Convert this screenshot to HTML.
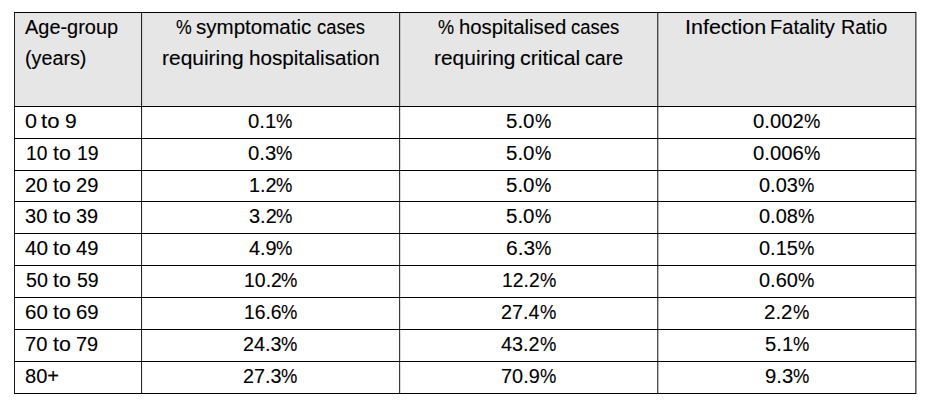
<!DOCTYPE html>
<html><head><meta charset="utf-8"><title>Table</title>
<style>
html,body{margin:0;padding:0;background:#fff;}
body{width:938px;height:413px;position:relative;overflow:hidden;font-family:"Liberation Sans",sans-serif;color:#000;}
.hd{position:absolute;left:15px;top:13px;width:900px;height:93px;background:#e6e6e6;}
.h{position:absolute;left:14px;width:902px;height:1px;background:#000;}
.v{position:absolute;top:12px;width:1px;height:382px;}
.t{display:block;position:absolute;white-space:nowrap;line-height:24px;height:24px;font-size:19.5px;-webkit-text-stroke:0.12px #000;transform-origin:0 50%;}
.n{font-size:20.0px;}
.c{height:0;margin:0;padding:0;}
</style></head><body>
<div class="hd"></div>
<div class="v" style="left:14px;background:rgba(0,0,0,.89)"></div>
<div class="v" style="left:141px;background:rgba(0,0,0,.84)"></div>
<div class="v" style="left:142px;background:rgba(0,0,0,.075)"></div>
<div class="v" style="left:399px;background:rgba(0,0,0,.77)"></div>
<div class="v" style="left:400px;background:rgba(0,0,0,.14)"></div>
<div class="v" style="left:657px;background:rgba(0,0,0,.69)"></div>
<div class="v" style="left:658px;background:rgba(0,0,0,.26)"></div>
<div class="v" style="left:915px;background:rgba(0,0,0,.63)"></div>
<div class="v" style="left:916px;background:rgba(0,0,0,.39)"></div>
<div class="h" style="top:12px"></div>
<div class="h" style="top:106px"></div>
<div class="h" style="top:138px"></div>
<div class="h" style="top:170px"></div>
<div class="h" style="top:201px"></div>
<div class="h" style="top:233px"></div>
<div class="h" style="top:265px"></div>
<div class="h" style="top:297px"></div>
<div class="h" style="top:329px"></div>
<div class="h" style="top:361px"></div>
<div class="h" style="top:393px"></div>
<div class="c"><span class="t" style="left:25.40px;top:15px;transform:scaleX(1.0227)">Age-group</span></div>
<div class="c"><span class="t" style="left:25.19px;top:46px;transform:scaleX(1.0120)">(years)</span></div>
<div class="c"><span class="t" style="left:175.60px;top:15px;transform:scaleX(0.9077)">%</span> <span class="t" style="left:196.47px;top:15px;transform:scaleX(1.0535)">symptomatic</span> <span class="t" style="left:317.19px;top:15px;transform:scaleX(0.9414)">cases</span></div>
<div class="c"><span class="t" style="left:161.86px;top:46px;transform:scaleX(1.0748)">requiring</span> <span class="t" style="left:248.58px;top:46px;transform:scaleX(1.0581)">hospitalisation</span></div>
<div class="c"><span class="t" style="left:437.84px;top:15px;transform:scaleX(0.9292)">%</span> <span class="t" style="left:458.50px;top:15px;transform:scaleX(1.0428)">hospitalised</span> <span class="t" style="left:570.89px;top:15px;transform:scaleX(0.9475)">cases</span></div>
<div class="c"><span class="t" style="left:434.46px;top:46px;transform:scaleX(1.0735)">requiring</span> <span class="t" style="left:520.38px;top:46px;transform:scaleX(1.0911)">critical</span> <span class="t" style="left:584.95px;top:46px;transform:scaleX(1.0027)">care</span></div>
<div class="c"><span class="t" style="left:684.77px;top:15px;transform:scaleX(1.1025)">Infection</span> <span class="t" style="left:770.25px;top:15px;transform:scaleX(1.0325)">Fatality</span> <span class="t" style="left:841.48px;top:15px;transform:scaleX(1.0150)">Ratio</span></div>
<div class="c"><span class="t n" style="left:24.69px;top:109px;transform:scaleX(1.0769)">0</span> <span class="t n" style="left:41.32px;top:109px;transform:scaleX(1.1048)">to</span> <span class="t n" style="left:64.91px;top:109px;transform:scaleX(1.0526)">9</span></div>
<div class="c"><span class="t n" style="left:25.76px;top:141px;transform:scaleX(0.9600)">10</span> <span class="t n" style="left:52.73px;top:141px;transform:scaleX(1.0667)">to</span> <span class="t n" style="left:76.89px;top:141px;transform:scaleX(0.9725)">19</span></div>
<div class="c"><span class="t n" style="left:24.99px;top:173px;transform:scaleX(1.0146)">20</span> <span class="t n" style="left:52.73px;top:173px;transform:scaleX(1.0667)">to</span> <span class="t n" style="left:76.14px;top:173px;transform:scaleX(1.0073)">29</span></div>
<div class="c"><span class="t n" style="left:25.25px;top:204px;transform:scaleX(1.0024)">30</span> <span class="t n" style="left:52.73px;top:204px;transform:scaleX(1.0667)">to</span> <span class="t n" style="left:76.40px;top:204px;transform:scaleX(0.9952)">39</span></div>
<div class="c"><span class="t n" style="left:24.94px;top:236px;transform:scaleX(1.0400)">40</span> <span class="t n" style="left:52.73px;top:236px;transform:scaleX(1.0667)">to</span> <span class="t n" style="left:76.10px;top:236px;transform:scaleX(1.0094)">49</span></div>
<div class="c"><span class="t n" style="left:25.66px;top:268px;transform:scaleX(0.9831)">50</span> <span class="t n" style="left:52.73px;top:268px;transform:scaleX(1.0667)">to</span> <span class="t n" style="left:76.82px;top:268px;transform:scaleX(0.9759)">59</span></div>
<div class="c"><span class="t n" style="left:24.78px;top:300px;transform:scaleX(1.0244)">60</span> <span class="t n" style="left:52.73px;top:300px;transform:scaleX(1.0667)">to</span> <span class="t n" style="left:75.93px;top:300px;transform:scaleX(1.0171)">69</span></div>
<div class="c"><span class="t n" style="left:25.20px;top:332px;transform:scaleX(1.0049)">70</span> <span class="t n" style="left:52.73px;top:332px;transform:scaleX(1.0667)">to</span> <span class="t n" style="left:76.35px;top:332px;transform:scaleX(0.9976)">79</span></div>
<div class="c"><span class="t n" style="left:25.05px;top:364px;transform:scaleX(1.0047)">80+</span></div>
<div class="c"><span class="t n" style="left:248.14px;top:109px;transform:scaleX(1.0133)">0.1</span><span class="t n" style="left:276.14px;top:109px;transform:scaleX(0.9194)">%</span></div>
<div class="c"><span class="t n" style="left:506.13px;top:109px;transform:scaleX(1.0264)">5.0</span><span class="t n" style="left:534.74px;top:109px;transform:scaleX(0.9194)">%</span></div>
<div class="c"><span class="t n" style="left:753.04px;top:109px;transform:scaleX(1.0144)">0.002</span><span class="t n" style="left:803.64px;top:109px;transform:scaleX(0.9194)">%</span></div>
<div class="c"><span class="t n" style="left:248.14px;top:141px;transform:scaleX(1.0133)">0.3</span><span class="t n" style="left:276.14px;top:141px;transform:scaleX(0.9194)">%</span></div>
<div class="c"><span class="t n" style="left:506.13px;top:141px;transform:scaleX(1.0264)">5.0</span><span class="t n" style="left:534.74px;top:141px;transform:scaleX(0.9194)">%</span></div>
<div class="c"><span class="t n" style="left:753.04px;top:141px;transform:scaleX(1.0144)">0.006</span><span class="t n" style="left:803.64px;top:141px;transform:scaleX(0.9194)">%</span></div>
<div class="c"><span class="t n" style="left:248.71px;top:173px;transform:scaleX(0.9922)">1.2</span><span class="t n" style="left:276.14px;top:173px;transform:scaleX(0.9194)">%</span></div>
<div class="c"><span class="t n" style="left:506.13px;top:173px;transform:scaleX(1.0264)">5.0</span><span class="t n" style="left:534.74px;top:173px;transform:scaleX(0.9194)">%</span></div>
<div class="c"><span class="t n" style="left:758.85px;top:173px;transform:scaleX(0.9973)">0.03</span><span class="t n" style="left:797.64px;top:173px;transform:scaleX(0.9194)">%</span></div>
<div class="c"><span class="t n" style="left:248.55px;top:204px;transform:scaleX(0.9981)">3.2</span><span class="t n" style="left:276.14px;top:204px;transform:scaleX(0.9194)">%</span></div>
<div class="c"><span class="t n" style="left:506.13px;top:204px;transform:scaleX(1.0264)">5.0</span><span class="t n" style="left:534.74px;top:204px;transform:scaleX(0.9194)">%</span></div>
<div class="c"><span class="t n" style="left:758.85px;top:204px;transform:scaleX(0.9973)">0.08</span><span class="t n" style="left:797.64px;top:204px;transform:scaleX(0.9194)">%</span></div>
<div class="c"><span class="t n" style="left:248.65px;top:236px;transform:scaleX(0.9944)">4.9</span><span class="t n" style="left:276.14px;top:236px;transform:scaleX(0.9194)">%</span></div>
<div class="c"><span class="t n" style="left:505.85px;top:236px;transform:scaleX(1.0462)">6.3</span><span class="t n" style="left:534.74px;top:236px;transform:scaleX(0.9194)">%</span></div>
<div class="c"><span class="t n" style="left:758.85px;top:236px;transform:scaleX(0.9973)">0.15</span><span class="t n" style="left:797.64px;top:236px;transform:scaleX(0.9194)">%</span></div>
<div class="c"><span class="t n" style="left:243.84px;top:268px;transform:scaleX(0.9726)">10.2</span><span class="t n" style="left:281.44px;top:268px;transform:scaleX(0.9194)">%</span></div>
<div class="c"><span class="t n" style="left:502.25px;top:268px;transform:scaleX(0.9671)">12.2</span><span class="t n" style="left:539.64px;top:268px;transform:scaleX(0.9194)">%</span></div>
<div class="c"><span class="t n" style="left:758.85px;top:268px;transform:scaleX(0.9973)">0.60</span><span class="t n" style="left:797.64px;top:268px;transform:scaleX(0.9194)">%</span></div>
<div class="c"><span class="t n" style="left:243.85px;top:300px;transform:scaleX(0.9660)">16.6</span><span class="t n" style="left:281.44px;top:300px;transform:scaleX(0.9194)">%</span></div>
<div class="c"><span class="t n" style="left:501.01px;top:300px;transform:scaleX(0.9867)">27.4</span><span class="t n" style="left:539.64px;top:300px;transform:scaleX(0.9194)">%</span></div>
<div class="c"><span class="t n" style="left:764.48px;top:300px;transform:scaleX(1.0231)">2.2</span><span class="t n" style="left:792.74px;top:300px;transform:scaleX(0.9194)">%</span></div>
<div class="c"><span class="t n" style="left:243.01px;top:332px;transform:scaleX(0.9879)">24.3</span><span class="t n" style="left:281.44px;top:332px;transform:scaleX(0.9194)">%</span></div>
<div class="c"><span class="t n" style="left:501.35px;top:332px;transform:scaleX(0.9907)">43.2</span><span class="t n" style="left:539.64px;top:332px;transform:scaleX(0.9194)">%</span></div>
<div class="c"><span class="t n" style="left:764.74px;top:332px;transform:scaleX(1.0133)">5.1</span><span class="t n" style="left:792.74px;top:332px;transform:scaleX(0.9194)">%</span></div>
<div class="c"><span class="t n" style="left:243.01px;top:364px;transform:scaleX(0.9879)">27.3</span><span class="t n" style="left:281.44px;top:364px;transform:scaleX(0.9194)">%</span></div>
<div class="c"><span class="t n" style="left:501.21px;top:364px;transform:scaleX(0.9946)">70.9</span><span class="t n" style="left:539.64px;top:364px;transform:scaleX(0.9194)">%</span></div>
<div class="c"><span class="t n" style="left:764.74px;top:364px;transform:scaleX(1.0133)">9.3</span><span class="t n" style="left:792.74px;top:364px;transform:scaleX(0.9194)">%</span></div>
</body></html>
